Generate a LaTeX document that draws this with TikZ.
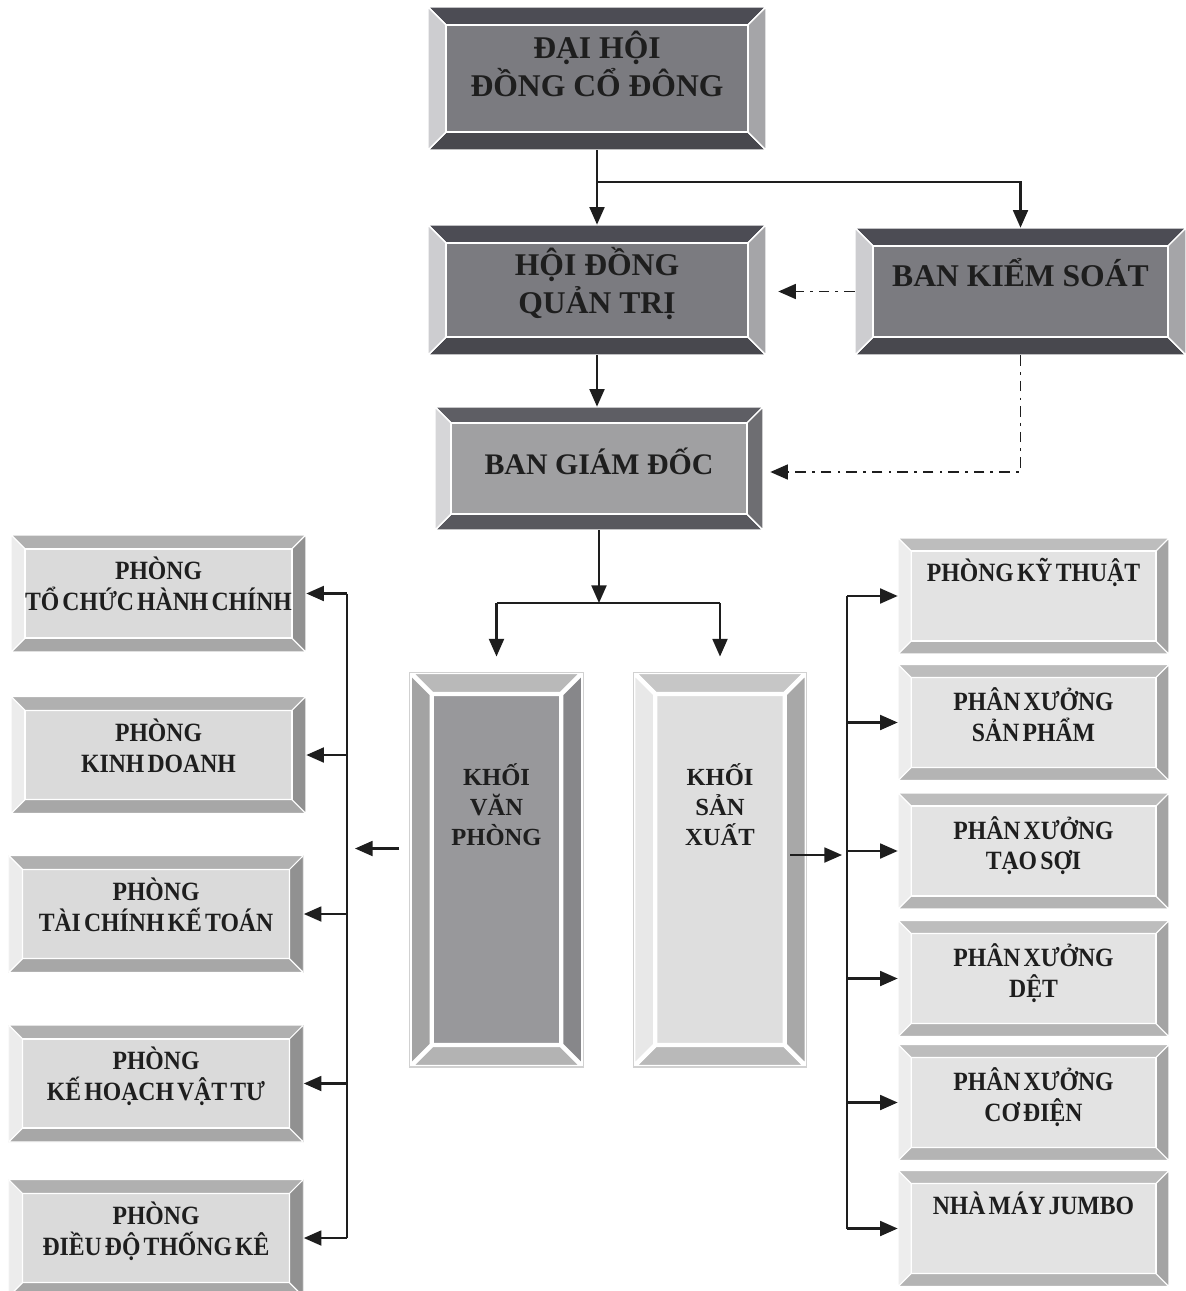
\documentclass[tikz,border=0pt]{standalone}
\usepackage{fontspec}
\setmainfont{Liberation Serif}
\newfontfamily\narrowserif{Liberation Serif}[FakeStretch=0.9]
\usetikzlibrary{calc,arrows.meta}

\definecolor{ink}{HTML}{1E1E1E}
\definecolor{dkface}{HTML}{7B7B80}
\definecolor{dktop}{HTML}{4C4C54}
\definecolor{dkbot}{HTML}{48484E}
\definecolor{dkleft}{HTML}{CDCDD0}
\definecolor{dkright}{HTML}{A5A5A8}
\definecolor{mdface}{HTML}{A0A0A2}
\definecolor{mdtop}{HTML}{5E5E64}
\definecolor{mdbot}{HTML}{58585E}
\definecolor{mdleft}{HTML}{D6D6D8}
\definecolor{mdright}{HTML}{6E6E72}
\definecolor{ltface}{HTML}{DADADA}
\definecolor{lttop}{HTML}{B0B0B0}
\definecolor{ltbot}{HTML}{A7A7A7}
\definecolor{ltleft}{HTML}{ECECEC}
\definecolor{ltright}{HTML}{919191}
\definecolor{rtface}{HTML}{E3E3E3}
\definecolor{rttop}{HTML}{BDBDBD}
\definecolor{rtbot}{HTML}{B4B4B4}
\definecolor{rtleft}{HTML}{EDEDED}
\definecolor{rtright}{HTML}{A4A4A4}
\definecolor{vpface}{HTML}{98989B}
\definecolor{vptop}{HTML}{B9B9B9}
\definecolor{vpbot}{HTML}{B3B3B3}
\definecolor{vpleft}{HTML}{A3A3A3}
\definecolor{vpright}{HTML}{87878A}
\definecolor{sxface}{HTML}{DEDEDE}
\definecolor{sxtop}{HTML}{C6C6C6}
\definecolor{sxbot}{HTML}{B9B9B9}
\definecolor{sxleft}{HTML}{E8E8E8}
\definecolor{sxright}{HTML}{A8A8A8}

\newcommand\topfont{\bfseries\fontsize{18}{21.5}\selectfont}
\newcommand\deptfont{\narrowserif\bfseries\fontsize{15}{17.5}\selectfont\spaceskip=0.12em plus 0.05em}
\newcommand\blockfont{\bfseries\fontsize{14}{17}\selectfont}

\tikzset{
  % face, top, bottom, left, right, bevel width, seam width
  bevel/.style n args={7}{fill=#1, inner sep=0pt, align=center, text=ink,
    path picture={
      \path (path picture bounding box.north west) coordinate (bvo1)
            (path picture bounding box.south east) coordinate (bvo3);
      \path ($(bvo1)+(#6,-#6)$) coordinate (bvi1)
            ($(bvo3)+(-#6,#6)$) coordinate (bvi3);
      \begin{scope}[draw=white, line width=#7, line join=round]
        \filldraw[fill=#2] (bvo1) -- (bvo1 -| bvo3) -- (bvi1 -| bvi3) -- (bvi1) -- cycle;
        \filldraw[fill=#3] (bvo3 -| bvo1) -- (bvo3) -- (bvi3) -- (bvi3 -| bvi1) -- cycle;
        \filldraw[fill=#4] (bvo1) -- (bvi1) -- (bvi3 -| bvi1) -- (bvo3 -| bvo1) -- cycle;
        \filldraw[fill=#5] (bvo1 -| bvo3) -- (bvo3) -- (bvi3) -- (bvi1 -| bvi3) -- cycle;
        \draw (bvi1) rectangle (bvi3);
      \end{scope}
    }},
  darkbox/.style={bevel={dkface}{dktop}{dkbot}{dkleft}{dkright}{0.36cm}{0.8pt}, font=\topfont},
  midbox/.style={bevel={mdface}{mdtop}{mdbot}{mdleft}{mdright}{0.32cm}{0.8pt},
    font=\bfseries\fontsize{17}{21}\selectfont},
  leftbox/.style={bevel={ltface}{lttop}{ltbot}{ltleft}{ltright}{0.28cm}{0.6pt},
    font=\deptfont, minimum width=5.9cm, minimum height=2.34cm, text depth=0.38cm},
  rightbox/.style={bevel={rtface}{rttop}{rtbot}{rtleft}{rtright}{0.26cm}{0.6pt},
    font=\deptfont, minimum width=5.42cm, minimum height=2.32cm, text depth=0.32cm},
  blockbox/.style={draw=black!18, line width=0.6pt, font=\blockfont,
    minimum width=3.47cm, minimum height=7.9cm, text depth=2.6cm},
  line/.style={draw=ink, line width=1.2pt},
  arr/.style={line, -{Triangle[length=10pt,width=8.5pt]}},
  ctrl/.style={draw=ink, line width=1.1pt, dash pattern=on 6pt off 3.5pt on 1.5pt off 3.5pt,
    -{Triangle[length=10pt,width=8.5pt]}}
}

\begin{document}
\begin{tikzpicture}[x=0.02cm,y=-0.02cm]
  \useasboundingbox[fill=white] (0,0) rectangle (1186,1291);

  \node[darkbox, minimum width=6.76cm, minimum height=2.86cm, text depth=0.58cm] (dhcd) at (597,78.5) {ĐẠI HỘI\\ĐỒNG CỔ ĐÔNG};
  \node[darkbox, minimum width=6.76cm, minimum height=2.6cm, text depth=0.38cm] (hdqt) at (597,290) {HỘI ĐỒNG\\QUẢN TRỊ};
  \node[darkbox, minimum width=6.62cm, minimum height=2.54cm, font=\bfseries\fontsize{18}{22}\selectfont,
        text depth=0.75cm] (bks) at (1020.5,291.5) {BAN KIỂM SOÁT};
  \node[midbox, minimum width=6.56cm, minimum height=2.46cm, text depth=0.3cm] (bgd) at (599,468.5) {BAN GIÁM ĐỐC};

  \node[blockbox, bevel={vpface}{vptop}{vpbot}{vpleft}{vpright}{0.44cm}{2.5pt}] (kvp) at (496.5,869.5) {KHỐI\\VĂN\\PHÒNG};
  \node[blockbox, bevel={sxface}{sxtop}{sxbot}{sxleft}{sxright}{0.44cm}{2.5pt}] (ksx) at (720,869.5) {KHỐI\\SẢN\\XUẤT};

  \node[leftbox] (l1) at (158.5,593.5) {PHÒNG\\TỔ CHỨC HÀNH CHÍNH};
  \node[leftbox] (l2) at (158.5,755) {PHÒNG\\KINH DOANH};
  \node[leftbox] (l3) at (156,914) {PHÒNG\\TÀI CHÍNH KẾ TOÁN};
  \node[leftbox] (l4) at (156,1083.5) {PHÒNG\\KẾ HOẠCH VẬT TƯ};
  \node[leftbox] (l5) at (156,1238) {PHÒNG\\ĐIỀU ĐỘ THỐNG KÊ};

  \node[rightbox, text depth=1.05cm] (r1) at (1033.5,596) {PHÒNG KỸ THUẬT};
  \node[rightbox] (r2) at (1033.5,722.5) {PHÂN XƯỞNG\\SẢN PHẨM};
  \node[rightbox] (r3) at (1033.5,851) {PHÂN XƯỞNG\\TẠO SỢI};
  \node[rightbox] (r4) at (1033.5,978.5) {PHÂN XƯỞNG\\DỆT};
  \node[rightbox] (r5) at (1033.5,1102.5) {PHÂN XƯỞNG\\CƠ ĐIỆN};
  \node[rightbox, text depth=1.0cm] (r6) at (1033.5,1228.5) {NHÀ MÁY JUMBO};

  \coordinate (fork1) at (597,182);
  \coordinate (fork2) at (599,603);
  \coordinate (ltop) at (347,593.5);
  \coordinate (lbot) at (347,1238);
  \coordinate (rtop) at (847,596);
  \coordinate (rbot) at (847,1228.5);

  \draw[arr] (dhcd) -- (hdqt);
  \draw[arr] (fork1) -| (bks);
  \draw[arr] (hdqt.south) -- (hdqt.south |- bgd.north);
  \draw[ctrl, shorten >=0.24cm] (bks.west) -- (bks.west -| hdqt.east);
  \draw[ctrl, shorten >=0.14cm] (bks.south) |- ([yshift=-0.07cm]bgd.east);

  \draw[arr] (bgd) -- (fork2);
  \draw[line] (fork2 -| kvp) -- (fork2 -| ksx);
  \draw[arr, shorten >=0.3cm] (fork2 -| kvp) -- (kvp);
  \draw[arr, shorten >=0.3cm] (fork2 -| ksx) -- (ksx);

  \draw[line] (ltop) -- (lbot);
  \draw[arr, shorten >=0.16cm] ([xshift=-0.2cm,yshift=0.42cm]kvp.west) -- ([yshift=0.42cm]kvp.west -| ltop);
  \foreach \b in {l1,l2,l3,l4,l5}
    \draw[arr] (\b.east -| ltop) -- (\b.east);

  \draw[line] (rtop) -- (rbot);
  \draw[arr, shorten >=0.1cm] ([xshift=-0.34cm,yshift=0.29cm]ksx.east) -- ([yshift=0.29cm]ksx.east -| rtop);
  \foreach \b in {r1,r2,r3,r4,r5,r6}
    \draw[arr] (\b.west -| rtop) -- (\b.west);
\end{tikzpicture}
\end{document}
